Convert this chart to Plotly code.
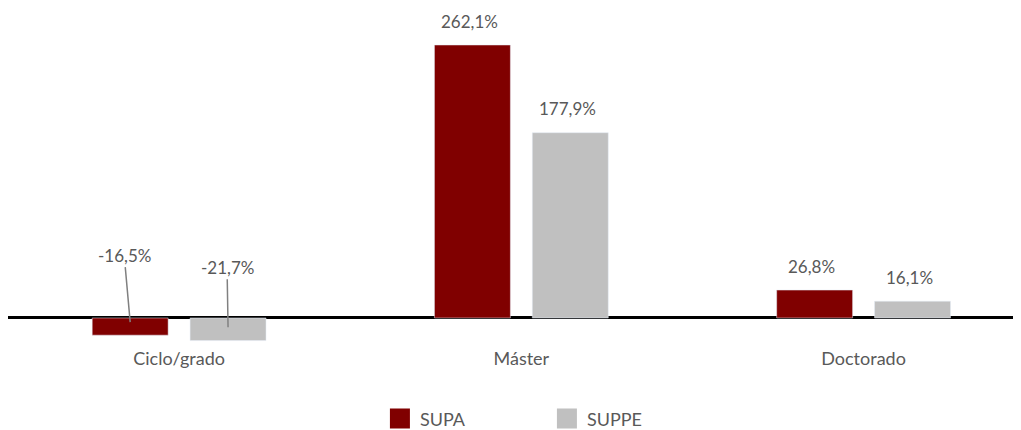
import plotly.graph_objects as go

categories = ["Ciclo/grado", "Máster", "Doctorado"]
supa = [-16.5, 262.1, 26.8]
suppe = [-21.7, 177.9, 16.1]
series_names = ["SUPA", "SUPPE"]
colors = ["#800000", "#C0C0C0"]

FONT = "Lato"
TXT = "#595959"
BARGAP = 0.428
GROUPGAP = 0.224

def fmt(v):
    return f"{v:.1f}".replace(".", ",") + "%"

fig = go.Figure()
for name, vals, col in zip(series_names, [supa, suppe], colors):
    fig.add_trace(go.Bar(x=categories, y=vals, name=name, marker_color=col,
                         showlegend=False, hoverinfo="skip"))
# legend entries (bigger square symbols)
for name, col in zip(series_names, colors):
    fig.add_trace(go.Scatter(x=[None], y=[None], mode="markers", name=name,
                             marker=dict(symbol="square", size=16, color=col,
                                         line=dict(color=col, width=4))))

off = (1 - BARGAP) / 4
ann = []
for i in range(len(categories)):
    for j, vals in enumerate([supa, suppe]):
        v = vals[i]
        xpos = i + (-off if j == 0 else off)
        if v >= 0:
            ann.append(dict(x=xpos, y=v, text=fmt(v), showarrow=False,
                            xshift=-3, yshift=24, yanchor="middle",
                            font=dict(family=FONT, size=17, color=TXT)))
        else:
            ax, ay = (-6, -67) if j == 0 else (-1, -60)
            ann.append(dict(x=xpos, y=-4 if j == 0 else -9, text=fmt(v),
                            showarrow=True, arrowhead=0, arrowwidth=1.5,
                            arrowcolor="#808080", ax=ax, ay=ay,
                            font=dict(family=FONT, size=17, color=TXT)))

fig.update_layout(
    width=1013, height=422,
    margin=dict(l=0, r=0, t=2, b=84, autoexpand=False),
    plot_bgcolor="white", paper_bgcolor="white",
    barmode="group", bargap=BARGAP, bargroupgap=GROUPGAP,
    font=dict(family=FONT, size=17, color=TXT),
    xaxis=dict(range=[-0.5, 2.46], showgrid=False, showline=False, ticks="",
               automargin=False,
               tickfont=dict(family=FONT, size=18, color=TXT)),
    yaxis=dict(range=[-26.9, 295.7], showgrid=False, showticklabels=False,
               automargin=False,
               zeroline=True, zerolinecolor="black", zerolinewidth=3),
    legend=dict(orientation="h", x=0.532, xanchor="center", y=-0.217,
                yanchor="middle", entrywidth=122,
                font=dict(family=FONT, size=18, color=TXT)),
    annotations=ann,
)

fig.write_html("out.html")
